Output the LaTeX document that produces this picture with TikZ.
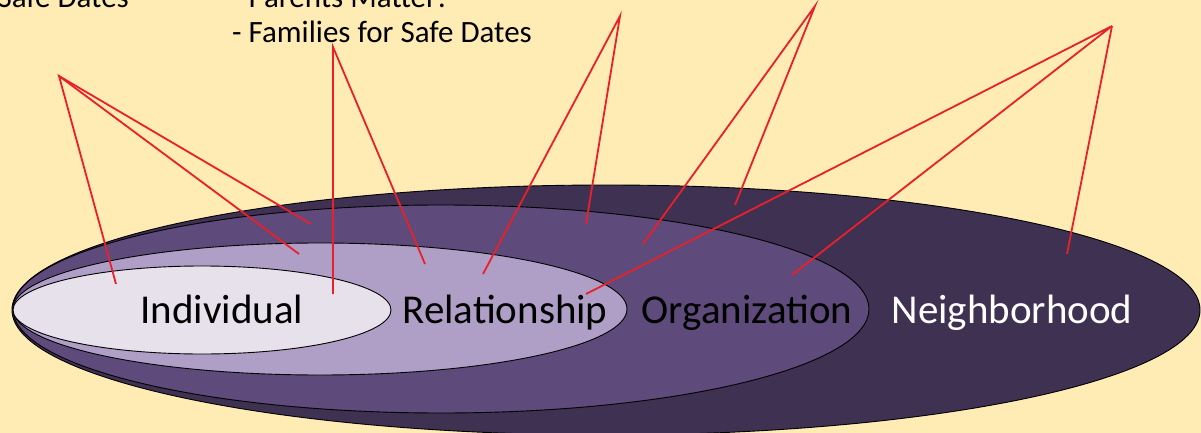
\documentclass[tikz,border=0pt]{standalone}
\usepackage{fontspec}
\setmainfont{Carlito}
\definecolor{bg}{HTML}{FFEBB4}
\definecolor{neigh}{HTML}{3F3152}
\definecolor{org}{HTML}{5E4A7B}
\definecolor{rel}{HTML}{AF9FC6}
\definecolor{indiv}{HTML}{E7E1EC}
\definecolor{leader}{HTML}{E8202A}
\begin{document}
\begin{tikzpicture}[x=1pt,y=-1pt,
  ring/.style={draw=black,line width=0.9pt},
  lbl/.style={anchor=base,font=\fontsize{41}{44}\selectfont,inner sep=0pt},
  toptext/.style={font=\fontsize{31}{34}\selectfont,inner sep=0pt},
  leaderline/.style={draw=leader,line width=1.8pt}]
\useasboundingbox (0,0) rectangle (1201,433);
\fill[bg] (0,0) rectangle (1201,433);
% ellipses
\path[ring,fill=neigh] (606,310) ellipse [x radius=594, y radius=125];
\path[ring,fill=org] (441,309) ellipse [x radius=428, y radius=104];
\path[ring,fill=rel] (320,309) ellipse [x radius=307, y radius=66];
\path[ring,fill=indiv] (202,310) ellipse [x radius=189, y radius=44];
% labels
\node[lbl,text=black] (tind) at (222,323) {Individual};
\node[lbl,text=black] (trel) at (505,323) {Relationship};
\node[lbl,text=black] (torg) at (747,323) {Organization};
\node[lbl,text=white] (tnei) at (1012,323) {Neighborhood};
% top texts
\node[toptext,anchor=base east] (tsafe) at (129,8) {Safe Dates};
\node[toptext,anchor=base west] (tparents) at (232,8) {- Parents Matter!};
\node[toptext,anchor=base west] (tfam) at (232,43) {- Families for Safe Dates};
% leader apexes
\coordinate (a1) at (59,76);
\coordinate (a2) at (333,47);
\coordinate (a3) at (620,16);
\coordinate (a4) at (815,6);
\coordinate (a5) at (1112,26);
% leader ends
\coordinate (e11) at (116,284);
\coordinate (e12) at (299,254);
\coordinate (e13) at (311,224);
\coordinate (e21) at (333,294);
\coordinate (e22) at (425,264);
\coordinate (e31) at (483,274);
\coordinate (e32) at (586,224);
\coordinate (e41) at (643,244);
\coordinate (e42) at (735,205);
\coordinate (e51) at (586,294);
\coordinate (e52) at (792,275);
\coordinate (e53) at (1067,254);
\draw[leaderline] (e11) -- (a1) -- (e12);
\draw[leaderline] (a1) -- (e13);
\draw[leaderline] (e21) -- (a2) -- (e22);
\draw[leaderline] (e31) -- (a3) -- (e32);
\draw[leaderline] (e41) -- (a4) -- (e42);
\draw[leaderline] (e51) -- (a5) -- (e52);
\draw[leaderline] (a5) -- (e53);
\end{tikzpicture}
\end{document}
